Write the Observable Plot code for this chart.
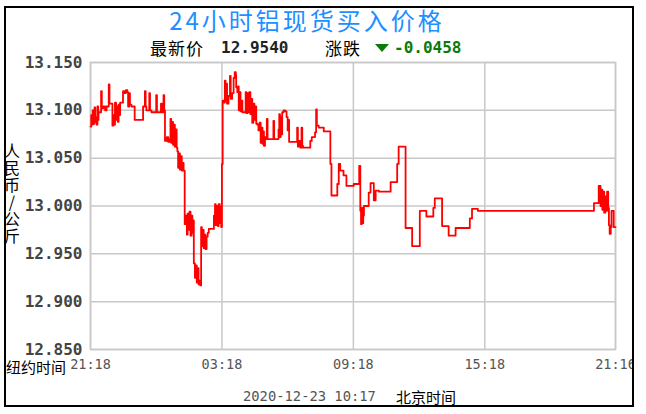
<!DOCTYPE html>
<html><head><meta charset="utf-8">
<script src="https://cdn.jsdelivr.net/npm/d3@7"></script>
<script src="https://cdn.jsdelivr.net/npm/@observablehq/plot@0.6"></script>
<style>
body{margin:0;background:#fff;}
#wrap{position:relative;width:646px;height:414px;overflow:hidden;background:#fff;}
#wrap svg{position:absolute;left:0;top:0;max-width:none;}
.t{position:absolute;white-space:nowrap;line-height:1;}
.cjk{font-family:"Noto Sans CJK SC";}
.mono{font-family:"DejaVu Sans Mono";}
</style></head><body>
<div id="wrap"></div>
<script>
// Title / header texts
const titleText = "24小时铝现货买入价格";
const latestLabel = "最新价";
const latestValue = "12.9540";
const changeLabel = "涨跌";
const changeValue = "-0.0458";
const yLabel = "人民币/公斤";
const nyLabel = "纽约时间";
const stampText = "2020-12-23 10:17";
const bjLabel = "北京时间";

// Axis ticks (x = minutes after 21:18 New York time)
const xTickMinutes = [0, 360, 720, 1080, 1438];
const xTickLabels = ["21:18", "03:18", "09:18", "15:18", "21:16"];
const yTicks = [12.85, 12.9, 12.95, 13.0, 13.05, 13.1, 13.15];

// Series: minutes after 21:18 and price (CNY / kg)
const times = [
  0,2,4,6,8,11,13,15,17,19,
  21,22,29,31,35,40,44,50,52,60,
  63,65,67,70,72,75,77,80,81,89,
  93,97,101,103,106,108,112,121,144,149,
  151,153,161,163,167,180,182,193,196,200,
  202,204,209,213,217,219,221,224,226,229,
  231,234,236,238,240,243,245,248,250,253,
  255,258,261,264,266,269,271,274,277,279,
  282,283,286,288,291,294,296,299,301,303,
  305,308,310,313,315,318,321,324,338,341,
  343,346,349,351,354,356,358,360,362,366,
  368,370,372,374,378,382,384,388,392,395,
  398,399,402,404,406,409,411,413,416,425,
  427,430,432,435,438,440,443,446,449,452,
  454,457,460,463,466,468,471,473,475,478,
  481,483,485,501,503,515,517,519,521,523,
  525,529,533,537,540,542,544,566,568,571,
  575,578,580,582,602,606,615,618,620,625,
  639,657,660,676,680,684,693,701,721,736,
  739,741,743,745,747,749,762,767,776,781,
  790,822,840,844,863,881,902,920,939,943,
  963,981,1000,1039,1045,1061,1379,1392,1397,1399,
  1402,1404,1407,1410,1413,1415,1418,1420,1422,1425,
  1427,1433,1438
];
const prices = [
  13.083,13.095,13.085,13.100,13.086,13.103,13.088,13.093,13.085,13.104,
  13.090,13.098,13.120,13.102,13.104,13.100,13.104,13.127,13.107,13.084,
  13.095,13.085,13.108,13.090,13.104,13.088,13.106,13.095,13.108,13.120,
  13.118,13.121,13.119,13.104,13.118,13.106,13.104,13.090,13.104,13.120,
  13.104,13.100,13.118,13.100,13.098,13.116,13.098,13.107,13.098,13.116,
  13.100,13.068,13.072,13.067,13.070,13.091,13.066,13.088,13.064,13.085,
  13.062,13.080,13.061,13.057,13.040,13.055,13.038,13.052,13.037,13.045,
  13.037,12.981,12.990,12.970,12.992,12.975,12.994,12.969,12.990,12.972,
  12.985,12.940,12.925,12.938,12.920,12.935,12.918,12.922,12.917,12.978,
  12.958,12.975,12.956,12.970,12.955,12.968,12.972,12.976,12.990,13.002,
  12.980,13.000,12.979,13.002,12.982,12.999,12.978,13.044,13.110,13.108,
  13.131,13.110,13.128,13.107,13.115,13.136,13.112,13.118,13.134,13.140,
  13.137,13.124,13.119,13.125,13.100,13.119,13.099,13.110,13.098,13.119,
  13.097,13.118,13.098,13.119,13.096,13.112,13.087,13.107,13.090,13.104,
  13.086,13.085,13.079,13.087,13.066,13.082,13.065,13.078,13.063,13.072,
  13.070,13.091,13.070,13.089,13.070,13.080,13.096,13.072,13.093,13.075,
  13.098,13.100,13.099,13.093,13.079,13.090,13.067,13.082,13.062,13.068,
  13.061,13.082,13.063,13.061,13.068,13.072,13.077,13.101,13.084,13.082,
  13.078,13.044,13.011,13.023,13.044,13.037,13.032,13.021,13.023,13.042,
  12.995,12.981,12.998,12.982,12.990,13.000,13.014,13.024,13.006,13.016,
  13.015,13.025,13.044,13.062,12.977,12.958,12.995,12.989,12.998,13.008,
  12.979,12.969,12.977,12.987,12.997,12.995,13.003,13.021,13.000,13.017,
  12.996,13.015,12.993,13.010,12.995,13.015,12.998,12.980,12.971,12.978,
  12.995,12.978,12.978
];

const series = times.map((t, i) => ({t, v: prices[i]}));

const plot = Plot.plot({
  width: 646, height: 414,
  marginLeft: 90, marginRight: 31, marginTop: 62, marginBottom: 65,
  style: {background: "transparent", overflow: "visible", maxWidth: "none"},
  x: {domain: [0, 1438]},
  y: {domain: [12.85, 13.15]},
  marks: [
    Plot.gridY(yTicks, {stroke: "#c8c8c8", strokeOpacity: 1, strokeWidth: 1.5}),
    Plot.gridX(xTickMinutes, {stroke: "#c8c8c8", strokeOpacity: 1, strokeWidth: 1.5}),
    Plot.frame({stroke: "#c8c8c8", strokeWidth: 1.5}),
    Plot.axisY(yTicks, {tickSize: 0, tickPadding: 8, tickFormat: d3.format(".3f"),
      fontFamily: "DejaVu Sans Mono", fontSize: 16, fontWeight: "bold", fill: "#444", label: null}),
    Plot.axisX(xTickMinutes, {tickSize: 0, tickPadding: 10,
      tickFormat: d => xTickLabels[xTickMinutes.indexOf(d)],
      fontFamily: "DejaVu Sans Mono", fontSize: 13.5, fill: "#555", label: null}),
    Plot.line(series, {x: "t", y: "v", curve: "step-after", stroke: "#ff0000", strokeWidth: 1.8})
  ]
});

const wrap = document.getElementById("wrap");
wrap.appendChild(plot);

function addText(text, cls, style) {
  const d = document.createElement("div");
  d.className = "t " + cls;
  d.textContent = text;
  Object.assign(d.style, style);
  wrap.appendChild(d);
  return d;
}

addText(titleText, "cjk", {left: "0px", width: "614px", textAlign: "center", top: "8px",
  fontSize: "24px", letterSpacing: "3px", color: "#1e8fff", lineHeight: "24px"});
addText(latestLabel, "cjk", {left: "150px", top: "39px", fontSize: "17px", letterSpacing: "1px", color: "#000", lineHeight: "17px"});
addText(latestValue, "mono", {left: "221px", top: "40px", fontSize: "16px", fontWeight: "bold", color: "#222"});
addText(changeLabel, "cjk", {left: "325px", top: "39px", fontSize: "17px", letterSpacing: "1px", color: "#000", lineHeight: "17px"});
const tri = document.createElement("div");
Object.assign(tri.style, {position: "absolute", left: "375px", top: "44px", width: "0", height: "0",
  borderLeft: "7px solid transparent", borderRight: "7px solid transparent", borderTop: "8px solid #0a7a0a"});
wrap.appendChild(tri);
addText(changeValue, "mono", {left: "394px", top: "40px", fontSize: "16px", fontWeight: "bold", color: "#0a7a0a"});

addText(yLabel, "cjk", {left: "4px", top: "143px", fontSize: "16px", letterSpacing: "1px",
  writingMode: "vertical-rl", textOrientation: "upright", color: "#000"});
addText(nyLabel, "cjk", {left: "6px", top: "359px", fontSize: "15px", color: "#000", lineHeight: "15px"});
addText(stampText, "mono", {left: "243px", top: "390px", fontSize: "13.8px", color: "#555"});
addText(bjLabel, "cjk", {left: "396px", top: "389px", fontSize: "15px", color: "#000", lineHeight: "15px"});

// outer frame, and white beyond it (the reference clips there)
const cover = document.createElement("div");
Object.assign(cover.style, {position: "absolute", left: "634px", top: "0px", width: "12px", height: "414px", background: "#fff"});
wrap.appendChild(cover);
const border = document.createElement("div");
Object.assign(border.style, {position: "absolute", left: "4px", top: "6px", width: "630px", height: "401px",
  border: "2px solid #000", boxSizing: "border-box", pointerEvents: "none"});
wrap.appendChild(border);
</script>
</body></html>
